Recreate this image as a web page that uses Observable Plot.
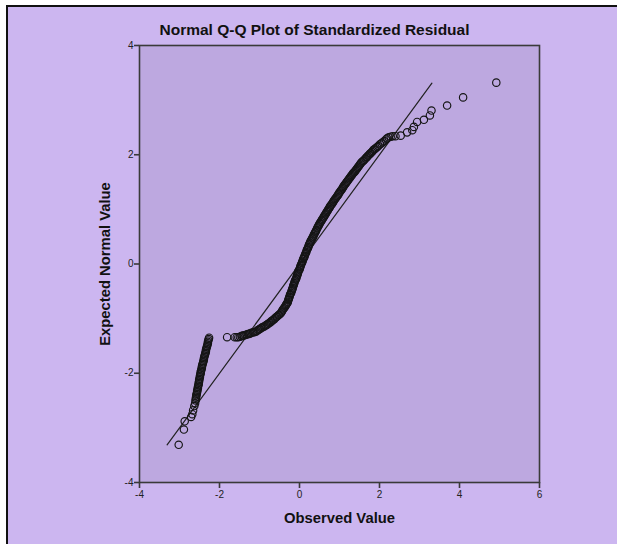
<!DOCTYPE html>
<html>
<head>
<meta charset="utf-8">
<script src="https://cdn.jsdelivr.net/npm/d3@7"></script>
<script src="https://cdn.jsdelivr.net/npm/@observablehq/plot@0.6"></script>
<style>
  html, body { margin: 0; padding: 0; background: #ffffff; }
  #page { position: relative; width: 617px; height: 544px; overflow: hidden; font-family: "Liberation Sans", Arial, sans-serif; }
  #panel { position: absolute; left: 6px; top: 5px; right: 0; bottom: 0; background: #ccb6f0; border-left: 2px solid #111; border-top: 2px solid #111; }
  #title { position: absolute; left: 6px; width: 617px; top: 21px; text-align: center; font-size: 15.5px; font-weight: bold; color: #111; }
  #chart { position: absolute; left: 0; top: 0; }
</style>
</head>
<body>
<div id="page">
  <div id="panel"></div>
  <div id="title">Normal Q-Q Plot of Standardized Residual</div>
  <div id="chart"></div>
</div>
<script>
const observed = [
  -3.02, -2.89, -2.87, -2.71, -2.68, -2.66, -2.63, -2.61,
  -2.60, -2.59, -2.59, -2.58, -2.58, -2.57, -2.56, -2.56, -2.55, -2.54,
  -2.54, -2.53, -2.52, -2.52, -2.51, -2.51, -2.50, -2.49, -2.49, -2.48,
  -2.47, -2.47, -2.46, -2.45, -2.44, -2.44, -2.43, -2.42, -2.41, -2.40,
  -2.39, -2.39, -2.38, -2.37, -2.36, -2.35, -2.34, -2.34, -2.33, -2.32,
  -2.31, -2.30, -2.29, -2.29, -2.28, -2.27, -2.26,
  -1.81, -1.62, -1.57, -1.53, -1.49,
  -1.45, -1.42, -1.39, -1.35, -1.32, -1.29, -1.26, -1.23, -1.20, -1.16, -1.13,
  -1.10, -1.07, -1.04, -1.01, -0.99, -0.96, -0.93, -0.90, -0.87, -0.84, -0.81, -0.79, -0.76,
  -0.73, -0.71, -0.68, -0.66, -0.63, -0.61, -0.58, -0.56, -0.53, -0.51,
  -0.48, -0.46, -0.44, -0.43, -0.41, -0.39, -0.37, -0.35, -0.34, -0.32,
  -0.30, -0.29, -0.28, -0.27, -0.26, -0.25, -0.24, -0.23, -0.21, -0.20, -0.19, -0.18, -0.17, -0.16,
  -0.15, -0.14, -0.13, -0.12, -0.11, -0.09, -0.08, -0.07, -0.06, -0.05, -0.04, -0.03, -0.02, 0.00, 0.01, 0.02,
  0.03, 0.04, 0.06, 0.07, 0.08, 0.09, 0.11, 0.12, 0.13, 0.14, 0.16, 0.17, 0.18, 0.19, 0.21, 0.22,
  0.23, 0.24, 0.26, 0.27, 0.29, 0.30, 0.32, 0.33, 0.35, 0.36, 0.38, 0.39, 0.41, 0.42, 0.44, 0.45, 0.47,
  0.48, 0.50, 0.51, 0.53, 0.55, 0.56, 0.58, 0.60, 0.61, 0.63, 0.65, 0.66, 0.68, 0.70, 0.71, 0.73, 0.75, 0.76,
  0.78, 0.80, 0.82, 0.84, 0.85, 0.87, 0.89, 0.91, 0.93, 0.95, 0.97, 0.98, 1.00, 1.02, 1.04, 1.06, 1.08, 1.09, 1.11, 1.13,
  1.15, 1.17, 1.19, 1.21, 1.23, 1.25, 1.27, 1.29, 1.31, 1.33, 1.35, 1.37, 1.39, 1.41, 1.43, 1.45, 1.47, 1.49, 1.51,
  1.53, 1.55, 1.58, 1.60, 1.62, 1.65, 1.67, 1.69, 1.71, 1.74, 1.76, 1.78, 1.81, 1.83, 1.85, 1.88,
  1.90, 1.94, 1.97, 2.01, 2.05, 2.08, 2.12, 2.16, 2.19,
  2.23, 2.28, 2.33, 2.40, 2.53, 2.69, 2.82, 2.86, 2.94, 3.11, 3.26, 3.30, 3.69, 4.09, 4.92
];
// Expected normal value (y) for each observed value above
const expected = [
  -3.31, -3.03, -2.88, -2.80, -2.75, -2.68, -2.60, -2.55,
  -2.500, -2.475, -2.450, -2.425, -2.400, -2.375, -2.350, -2.325, -2.300, -2.275,
  -2.250, -2.225, -2.200, -2.175, -2.150, -2.125, -2.100, -2.075, -2.050, -2.025,
  -2.000, -1.975, -1.950, -1.925, -1.900, -1.875, -1.850, -1.825, -1.800, -1.775,
  -1.750, -1.725, -1.700, -1.675, -1.650, -1.625, -1.600, -1.575, -1.550, -1.525,
  -1.500, -1.475, -1.450, -1.425, -1.400, -1.375, -1.350,
  -1.34, -1.34, -1.34, -1.34, -1.33,
  -1.32, -1.31, -1.31, -1.30, -1.29, -1.28, -1.28, -1.27, -1.26, -1.25, -1.25,
  -1.24, -1.23, -1.21, -1.20, -1.19, -1.17, -1.16, -1.15, -1.14, -1.12, -1.11, -1.10, -1.08,
  -1.07, -1.05, -1.04, -1.02, -1.01, -0.99, -0.97, -0.96, -0.94, -0.93,
  -0.91, -0.89, -0.87, -0.85, -0.83, -0.81, -0.79, -0.77, -0.75, -0.73,
  -0.71, -0.69, -0.66, -0.64, -0.62, -0.60, -0.57, -0.55, -0.53, -0.50, -0.48, -0.46, -0.44, -0.41,
  -0.39, -0.37, -0.35, -0.32, -0.30, -0.28, -0.26, -0.23, -0.21, -0.19, -0.17, -0.14, -0.12, -0.10, -0.08, -0.05,
  -0.03, -0.01, 0.02, 0.04, 0.06, 0.09, 0.11, 0.13, 0.15, 0.18, 0.20, 0.22, 0.25, 0.27, 0.29, 0.31,
  0.34, 0.36, 0.38, 0.41, 0.43, 0.45, 0.47, 0.49, 0.51, 0.54, 0.56, 0.58, 0.60, 0.62, 0.65, 0.67, 0.69,
  0.71, 0.73, 0.75, 0.77, 0.79, 0.81, 0.83, 0.85, 0.87, 0.89, 0.91, 0.93, 0.95, 0.97, 0.99, 1.01, 1.03, 1.05,
  1.07, 1.09, 1.11, 1.13, 1.15, 1.17, 1.19, 1.21, 1.23, 1.25, 1.27, 1.29, 1.31, 1.33, 1.35, 1.37, 1.39, 1.41, 1.43, 1.45,
  1.47, 1.49, 1.51, 1.53, 1.55, 1.57, 1.59, 1.61, 1.63, 1.65, 1.67, 1.68, 1.70, 1.72, 1.74, 1.76, 1.78, 1.80, 1.82,
  1.84, 1.86, 1.88, 1.89, 1.91, 1.93, 1.95, 1.96, 1.98, 2.00, 2.02, 2.03, 2.05, 2.07, 2.09, 2.10,
  2.12, 2.14, 2.16, 2.19, 2.21, 2.23, 2.25, 2.28, 2.30,
  2.32, 2.33, 2.34, 2.34, 2.35, 2.41, 2.45, 2.51, 2.60, 2.64, 2.72, 2.81, 2.90, 3.05, 3.32
];
// Reference (expected = observed) line end points
const refLine = [-3.31, 3.31];
const xTicks = [-4, -2, 0, 2, 4, 6];
const yTicks = [-4, -2, 0, 2, 4];
const xLabel = "Observed Value";
const yLabel = "Expected Normal Value";

const n = Math.min(observed.length, expected.length);
const points = observed.slice(0, n).map((v, i) => ({x: v, y: expected[i]}));
const line = refLine.map(v => ({x: v, y: v}));

const chart = Plot.plot({
  width: 617,
  height: 544,
  marginLeft: 139,
  marginRight: 78,
  marginTop: 45,
  marginBottom: 62,
  style: {background: "transparent", fontFamily: "'Liberation Sans', Arial, sans-serif", color: "#222"},
  x: {domain: [-4, 6], nice: false},
  y: {domain: [-4, 4], nice: false},
  marks: [
    Plot.frame({fill: "#bda8e0", stroke: null}),
    Plot.line(line, {x: "x", y: "y", stroke: "#222", strokeWidth: 1.2}),
    Plot.dot(points, {x: "x", y: "y", r: 3.7, stroke: "#151515", strokeWidth: 1.15, fill: "none"}),
    Plot.frame({stroke: "#3a3a3a", strokeWidth: 1.6}),
    Plot.axisX({ticks: xTicks, tickSize: 6, tickPadding: 2, fontSize: 10, label: null, stroke: "#3a3a3a", strokeWidth: 1.6, tickFormat: d => String(d)}),
    Plot.axisY({ticks: yTicks, tickSize: 5, tickPadding: 1, fontSize: 10, label: null, stroke: "#3a3a3a", strokeWidth: 1.6, tickFormat: d => String(d)}),
    Plot.text([xLabel], {frameAnchor: "bottom", dy: 40, text: d => d, fontSize: 14.8, fontWeight: "bold", fill: "#111", textAnchor: "middle"}),
    Plot.text([yLabel], {frameAnchor: "left", dx: -34, rotate: -90, text: d => d, fontSize: 14.8, fontWeight: "bold", fill: "#111", textAnchor: "middle"})
  ]
});
document.getElementById("chart").appendChild(chart);
</script>
</body>
</html>
